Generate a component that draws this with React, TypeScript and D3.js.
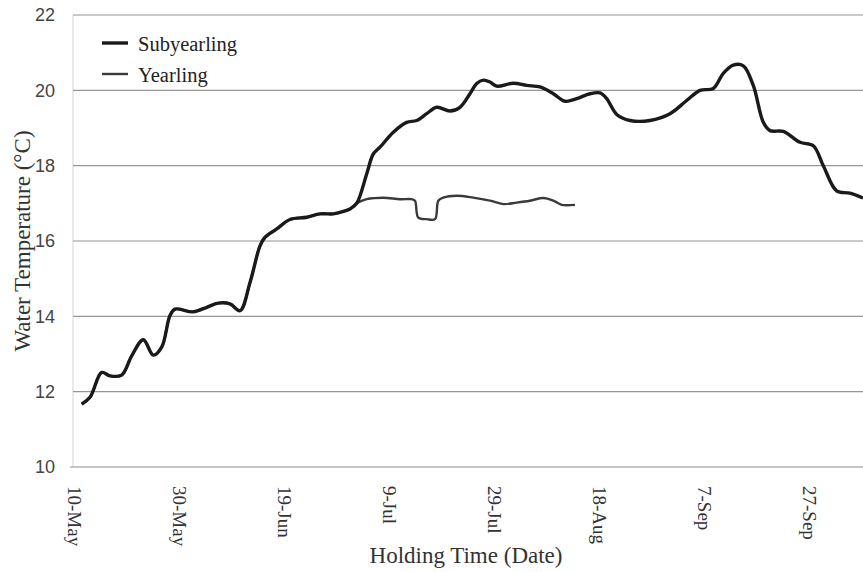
import React from "react";
import * as d3 from "d3";

// Days after 10-May
const sharedDays = [1.28, 2.86, 5.09, 6.67, 8.9, 10.81, 13.02, 14.93, 16.53, 18.11, 19.07, 22.55, 25.11, 27.32, 29.55, 31.46, 33.37, 35.27, 36.23, 38.46, 40.99, 44.18, 46.71, 49.25, 50.52, 52.43, 53.71];
const sharedTemps = [11.67, 11.85, 12.51, 12.42, 12.44, 12.95, 13.38, 12.97, 13.18, 14.02, 14.19, 14.12, 14.24, 14.35, 14.33, 14.15, 14.9, 15.87, 16.1, 16.32, 16.57, 16.63, 16.72, 16.72, 16.76, 16.85, 17.0];

const subLateDays = [55.61, 56.87, 58.15, 60.69, 63.24, 65.15, 67.05, 68.96, 71.5, 73.4, 75.31, 76.59, 77.85, 79.12, 80.4, 83.57, 86.12, 88.66, 91.19, 93.42, 95.65, 98.19, 100.1, 101.37, 103.28, 105.81, 109.63, 113.44, 116.62, 119.16, 121.7, 123.6, 125.51, 127.42, 129.32, 131.23, 132.51, 135.04, 138.23, 140.76, 142.67, 145.22, 147.76, 150.24];
const subLateTemps = [17.78, 18.31, 18.49, 18.89, 19.15, 19.2, 19.38, 19.55, 19.45, 19.55, 19.91, 20.18, 20.27, 20.22, 20.11, 20.19, 20.13, 20.09, 19.91, 19.71, 19.78, 19.91, 19.93, 19.78, 19.36, 19.2, 19.2, 19.38, 19.73, 20.0, 20.05, 20.45, 20.67, 20.65, 20.13, 19.15, 18.93, 18.91, 18.62, 18.53, 18.0, 17.33, 17.27, 17.14];

const yrlLateDays = [55.61, 58.78, 61.96, 64.2, 64.82, 65.45, 67.05, 68.64, 69.27, 70.22, 72.77, 75.94, 79.12, 81.66, 84.21, 86.75, 89.29, 91.2, 92.8, 95.33];
const yrlLateTemps = [17.11, 17.15, 17.11, 17.11, 17.07, 16.62, 16.58, 16.58, 17.07, 17.15, 17.2, 17.15, 17.07, 16.98, 17.02, 17.07, 17.14, 17.07, 16.96, 16.96];

const yTicks = [10, 12, 14, 16, 18, 20, 22];
const xTickDays = [0, 20, 40, 60, 80, 100, 120, 140];
const xTickLabels = ["10-May", "30-May", "19-Jun", "9-Jul", "29-Jul", "18-Aug", "7-Sep", "27-Sep"];
const seriesNames = ["Subyearling", "Yearling"];

type Pt = { d: number; t: number };
const zip = (ds: number[], ts: number[]): Pt[] => ds.map((d, i) => ({ d, t: ts[i] }));

export default function App() {
  const W = 863, H = 572;
  const left = 73, right = 863, top = 15, bottom = 467;
  const x = d3.scaleLinear().domain([0, 150.6]).range([75, 75 + 150.6 * 5.245]);
  const y = d3.scaleLinear().domain([10, 22]).range([bottom, top]);

  const subData = zip(sharedDays, sharedTemps).concat(zip(subLateDays, subLateTemps));
  const yrlData = zip(sharedDays, sharedTemps).concat(zip(yrlLateDays, yrlLateTemps));
  const line = d3.line<Pt>().x((p) => x(p.d)).y((p) => y(p.t)).curve(d3.curveCatmullRom.alpha(0.5));

  const serif = "'Liberation Serif', 'Times New Roman', serif";
  const sans = "'Liberation Sans', Arial, sans-serif";

  return (
    <svg width={W} height={H} style={{ position: "absolute", left: 0, top: 0, background: "#fff" }}>
      <line x1={left} x2={left} y1={top} y2={bottom} stroke="#d4d4d4" strokeWidth={1} />
      {yTicks.map((v) => (
        <g key={v}>
          <line x1={v === 10 ? 70 : left} x2={right} y1={y(v)} y2={y(v)} stroke={v === 10 ? "#8c8c8c" : "#969696"} strokeWidth={1.2} />
          <text x={55} y={y(v)} dy="0.36em" textAnchor="end" fontFamily={sans} fontSize={18} fill="#444">{v}</text>
        </g>
      ))}
      {xTickDays.map((d, i) => (
        <text key={d} transform={`translate(${x(d)},${bottom + 19}) rotate(90)`} dy="0.35em" textAnchor="start" fontFamily={serif} fontSize={19} fill="#333">{xTickLabels[i]}</text>
      ))}
      <path d={line(yrlData) || ""} fill="none" stroke="#3a3a3a" strokeWidth={2.4} strokeLinejoin="round" />
      <path d={line(subData) || ""} fill="none" stroke="#1a1a1a" strokeWidth={3.4} strokeLinejoin="round" />
      {/* legend */}
      <line x1={102} x2={128} y1={43} y2={43} stroke="#1a1a1a" strokeWidth={3.4} />
      <text x={138} y={51} fontFamily={serif} fontSize={20.5} fill="#222">{seriesNames[0]}</text>
      <line x1={102} x2={128} y1={74} y2={74} stroke="#3a3a3a" strokeWidth={2.4} />
      <text x={138} y={82} fontFamily={serif} fontSize={20.5} fill="#222">{seriesNames[1]}</text>
      {/* axis titles */}
      <text x={466} y={563} textAnchor="middle" fontFamily={serif} fontSize={23} fill="#333">Holding Time (Date)</text>
      <text transform={`translate(30,${(top + bottom) / 2}) rotate(-90)`} textAnchor="middle" fontFamily={serif} fontSize={23} fill="#333">Water Temperature (°C)</text>
    </svg>
  );
}
